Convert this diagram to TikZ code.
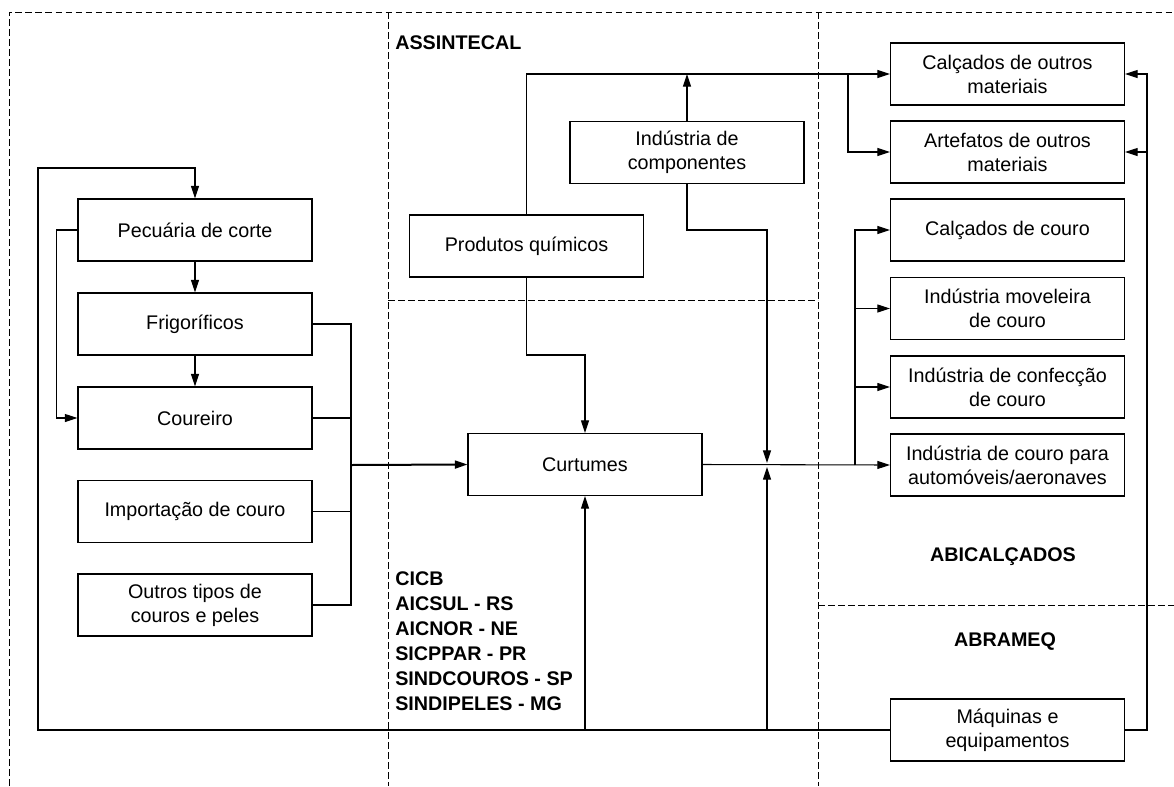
\documentclass[tikz,border=0pt]{standalone}
\usepackage{fontspec}
\setmainfont{Liberation Sans}
\usetikzlibrary{arrows.meta}
\begin{document}
\begin{tikzpicture}[x=0.75pt,y=-0.75pt,
  box/.style={draw, line width=0.8pt, minimum width=175.5pt, minimum height=46.5pt, inner sep=0pt, align=center, font=\fontsize{14.8pt}{18pt}\selectfont},
  conn/.style={line width=0.8pt},
  arr/.style={conn, -{Triangle[length=9.5pt,width=6pt]}},
  zone/.style={dash pattern=on 5pt off 2.5pt, line width=0.65pt},
  lbl/.style={font=\fontsize{14.8pt}{18.75pt}\selectfont\bfseries, inner sep=0pt, align=left}]
\useasboundingbox (0,0) rectangle (1174,786);
% zones
\draw[zone] (9.5,786) -- (9.5,12) -- (1174,12);
\draw[zone] (388,12) -- (388,786);
\draw[zone] (818,12) -- (818,786);
\draw[zone] (388,300) -- (818,300);
\draw[zone] (818,605) -- (1174,605);
% nodes
\node[box] (pec) at (195,230) {Pecuária de corte};
\node[box] (frig) at (195,324) {Frigoríficos};
\node[box] (cour) at (195,418) {Coureiro};
\node[box] (imp) at (195,511.5) {Importação de couro};
\node[box] (out) at (195,605) {Outros tipos de\\couros e peles};
\node[box] (prod) at (526.5,246) {Produtos químicos};
\node[box] (comp) at (687,152.5) {Indústria de\\componentes};
\node[box] (curt) at (585,464.5) {Curtumes};
\node[box] (calO) at (1007.5,74) {Calçados de outros\\materiais};
\node[box] (artO) at (1007.5,152) {Artefatos de outros\\materiais};
\node[box] (calC) at (1007.5,230) {Calçados de couro};
\node[box] (mov) at (1007.5,308.5) {Indústria moveleira\\de couro};
\node[box] (conf) at (1007.5,387) {Indústria de confecção\\de couro};
\node[box] (auto) at (1007.5,465) {Indústria de couro para\\automóveis/aeronaves};
\node[box] (maq) at (1007.5,730) {Máquinas e\\equipamentos};
% labels
\node[lbl, anchor=west] (assin) at (395,43) {ASSINTECAL};
\node[lbl, anchor=north west] (cicb) at (395,571) {CICB\\AICSUL - RS\\AICNOR - NE\\SICPPAR - PR\\SINDCOUROS - SP\\SINDIPELES - MG};
\node[lbl] (abic) at (1003,557) {ABICALÇADOS};
\node[lbl] (abra) at (1005,642) {ABRAMEQ};
% coordinates
\coordinate (lb) at (38,730);
\coordinate (lt) at (38,168);
\coordinate (bus) at (351,465);
\coordinate (rb) at (855,465);
\coordinate (sp) at (848,74);
\coordinate (rr) at (1147,730);
\coordinate (ra) at (1147,152);
\coordinate (pk) at (526.5,355);
\coordinate (ck) at (767,230);
\coordinate (cjd) at (767,463);
\coordinate (cju) at (767,467);
\coordinate (mb) at (767,730);
\coordinate (cb) at (585,730);
% connectors
\draw[arr] (maq.west) -- (lb) -- (lt) -| (pec.north);
\draw[arr] (pec.south) -- (frig.north);
\draw[arr] (frig.south) -- (cour.north);
\draw[arr] (pec.west) -- ++(-21,0) |- (cour.west);
\draw[conn] (frig.east) -| (bus |- out.east) -- (out.east);
\draw[conn] (cour.east) -- (bus |- cour.east);
\draw[conn] (imp.east) -- (bus |- imp.east);
\draw[arr, line width=1.5pt] (bus) -- (curt.west);
\draw[arr] (prod.north) |- (calO.west);
\draw[arr] (comp.north) -- (comp.north |- calO.west);
\draw[arr] (sp) |- (artO.west);
\draw[arr] (prod.south) -- (pk) -| (curt.north);
\draw[arr] (comp.south) |- (ck) -- (cjd);
\draw[arr] (mb) -- (cju);
\draw[arr] (cb) -- (curt.south);
\draw[arr] (curt.east) -- (auto.west);
\draw[arr] (rb) |- (calC.west);
\draw[arr] (rb) |- (mov.west);
\draw[arr] (rb) |- (conf.west);
\draw[arr] (maq.east) -- (rr) |- (calO.east);
\draw[arr] (ra) -- (artO.east);
\end{tikzpicture}
\end{document}
